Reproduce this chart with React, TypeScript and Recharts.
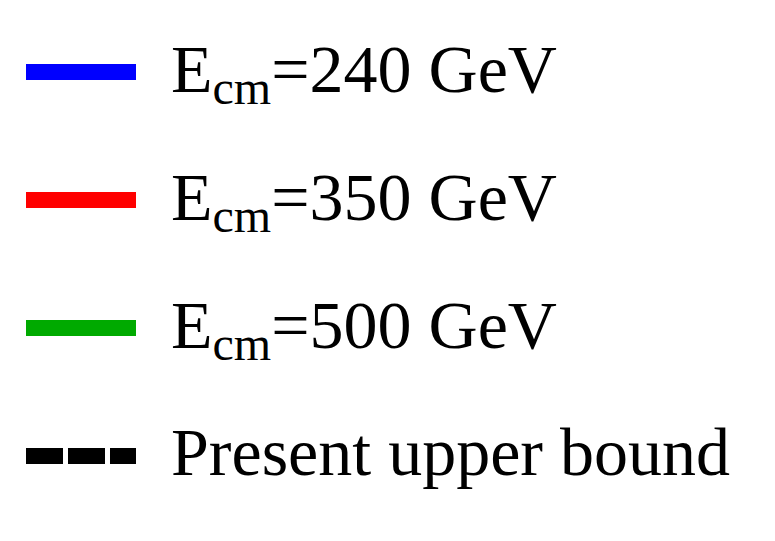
import { LineChart, Line, Legend, XAxis, YAxis } from 'recharts'

// legend-only figure: three collider energies plus the current bound
const energies = [240, 350, 500]
const energyColors = ['#0000ff', '#ff0000', '#00aa00']
const boundLabel = 'Present upper bound'
const boundColor = '#000000'

const chartData: Record<string, number>[] = []

const W = 775
const H = 541
const serif = "'Liberation Serif', 'Times New Roman', Times, serif"

interface LegendItem {
  dataKey?: unknown
  value?: string
  color?: string
}

function FigureLegend({ payload }: { payload?: LegendItem[] }) {
  const items = payload && payload.length
    ? payload
    : [
        ...energies.map((e, i) => ({ dataKey: `ecm${e}`, value: `${e}`, color: energyColors[i] })),
        { dataKey: 'bound', value: boundLabel, color: boundColor },
      ]

  return (
    <svg width={W} height={H} style={{ display: 'block' }}>
      {items.map((item, i) => {
        const cy = 72 + i * 128
        const isBound = item.dataKey === 'bound'
        return (
          <g key={String(item.dataKey)}>
            <line
              x1={26}
              x2={136}
              y1={cy}
              y2={cy}
              stroke={item.color}
              strokeWidth={16}
              strokeDasharray={isBound ? '37 5' : undefined}
            />
            {isBound ? (
              <text x={171} y={cy + 19} fontFamily={serif} fontSize={68} fill="#000">
                {item.value}
              </text>
            ) : (
              <text x={171} y={cy + 20} fontFamily={serif} fontSize={68} fill="#000">
                E
                <tspan fontSize={48} dy={12}>cm</tspan>
                <tspan fontSize={68} dy={-12}>{`=${item.value} GeV`}</tspan>
              </text>
            )}
          </g>
        )
      })}
    </svg>
  )
}

export default function App() {
  return (
    <div style={{ margin: -8, width: W, height: H, background: '#fff' }}>
      <LineChart width={W} height={H} data={chartData} margin={{ top: 0, right: 0, bottom: 0, left: 0 }}>
        <XAxis hide dataKey="x" />
        <YAxis hide />
        {energies.map((e, i) => (
          <Line
            key={e}
            dataKey={`ecm${e}`}
            name={`${e}`}
            stroke={energyColors[i]}
            strokeWidth={3}
            dot={false}
            isAnimationActive={false}
          />
        ))}
        <Line
          dataKey="bound"
          name={boundLabel}
          stroke={boundColor}
          strokeWidth={3}
          strokeDasharray="8 4"
          dot={false}
          isAnimationActive={false}
        />
        <Legend
          content={(props: any) => <FigureLegend payload={props.payload} />}
          wrapperStyle={{ position: 'absolute', left: 0, top: 0, width: W, height: H }}
        />
      </LineChart>
    </div>
  )
}
